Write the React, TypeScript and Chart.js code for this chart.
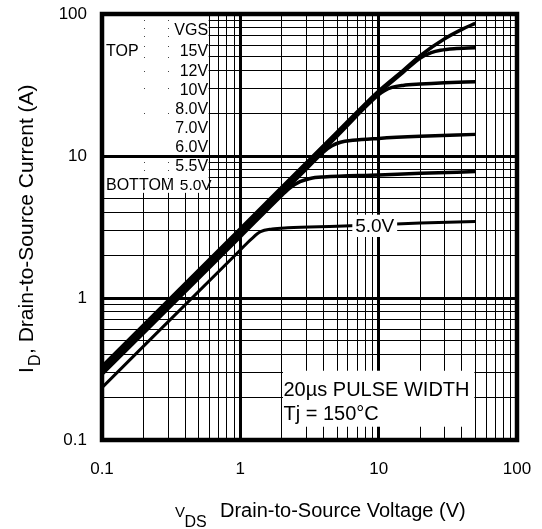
import React, { useEffect, useRef } from "react";
import { Chart, registerables } from "chart.js";

Chart.register(...registerables);

const FONT = '"Liberation Sans", Arial, Helvetica, sans-serif';

// grid positions (1-2-3-...-9 per decade) and decade labels
const gridValues = [
  0.1, 0.2, 0.3, 0.4, 0.5, 0.6, 0.7, 0.8, 0.9,
  1, 2, 3, 4, 5, 6, 7, 8, 9,
  10, 20, 30, 40, 50, 60, 70, 80, 90, 100,
];
const decadeValues = [0.1, 1, 10, 100];
const decadeLabels = ["0.1", "1", "10", "100"];

// VGS legend text
const vgsValues = ["VGS", "15V", "12V", "10V", "8.0V", "7.0V", "6.0V", "5.5V", "5.0V"];
const vgsPrefix = ["", "TOP", "", "", "", "", "", "", "BOTTOM"];
const vgsRowOffsets = [15, 36.5, 56, 75.3, 94.7, 113.3, 132, 151, 170.3];

// curves (VDS in V, ID in A)
const vds15 = [0.1, 1, 5, 10, 15, 20, 30, 40, 50];
const id15 = [0.33, 3.08, 14.7, 28.7, 40, 51, 67, 78, 86];

const vds8 = [0.1, 1, 10, 15, 20, 24, 28, 35, 50];
const id8 = [0.32, 2.98, 27.8, 38.8, 49, 53.5, 55.6, 57, 57.8];

const vds7 = [0.1, 1, 5, 10, 11, 12.5, 15, 20, 30, 50];
const id7 = [0.31, 2.89, 13.8, 27, 28.8, 30.4, 31.4, 32.1, 32.8, 33.4];

const vds6 = [0.1, 1, 3, 4, 4.6, 5.3, 6.5, 10, 20, 50];
const id6 = [0.3, 2.8, 8.1, 10.7, 11.8, 12.5, 12.9, 13.3, 13.75, 14.2];

const vds55 = [0.1, 1, 2, 2.3, 2.7, 3.2, 4, 10, 20, 50];
const id55 = [0.29, 2.7, 5.3, 6.0, 6.6, 6.95, 7.12, 7.35, 7.55, 7.77];

const vds5 = [0.1, 1, 1.2, 1.4, 1.7, 2.2, 5, 10, 20, 50];
const id5 = [0.234, 2.18, 2.6, 2.93, 3.06, 3.12, 3.2, 3.28, 3.37, 3.46];

const isDecade = (v: number) => Math.abs(Math.log10(v) - Math.round(Math.log10(v))) < 1e-6;

const align = (p: number, w: number) => {
  const h = Math.max(w / 2, 0.5);
  return Math.round(p - h) + h;
};

const makeSet = (label: string, xs: number[], ys: number[], w: number) => ({
  label,
  data: xs.map((x, i) => ({ x, y: ys[i] })),
  borderColor: "#000",
  backgroundColor: "#000",
  borderWidth: w,
  pointRadius: 0,
  cubicInterpolationMode: "monotone" as const,
  fill: false,
});

const overlay = {
  id: "overlay",
  afterDatasetsDraw(chart: any) {
    const { ctx, chartArea: a } = chart;
    const sx = chart.scales.x;
    const sy = chart.scales.y;
    const X = (v: number) => sx.getPixelForValue(v);
    const Y = (v: number) => sy.getPixelForValue(v);
    ctx.save();

    // ---- VGS legend box (top-left)
    const lbL = a.left;
    const lbR = X(0.6) - 1;
    const lbT = a.top;
    const lbB = Y(5.5);
    ctx.fillStyle = "#fff";
    ctx.fillRect(lbL, lbT, lbR - lbL, lbB - lbT);
    // major 10 line runs through the box
    ctx.strokeStyle = "#000";
    ctx.lineWidth = 3;
    ctx.beginPath();
    const y10 = align(Y(10), 3);
    ctx.moveTo(lbL, y10);
    ctx.lineTo(lbR + 2, y10);
    ctx.stroke();
    // dotted remnants of grid intersections
    ctx.fillStyle = "#444";
    const rows = gridValues.filter((v) => v > 5.5 && v < 100 && !isDecade(v));
    [0.2, 0.3].forEach((cv) => {
      rows.forEach((rv) => {
        ctx.fillRect(Math.round(X(cv)), Math.round(Y(rv)), 1, 1);
      });
    });
    // legend text
    ctx.fillStyle = "#000";
    ctx.textBaseline = "alphabetic";
    vgsValues.forEach((t, i) => {
      const yy = a.top + vgsRowOffsets[i] + 5.7;
      ctx.font = `${i === 8 ? 15.5 : 16}px ${FONT}`;
      ctx.textAlign = "right";
      ctx.fillText(t, i === 8 ? lbR + 3 : lbR - 0.5, yy);
      if (vgsPrefix[i]) {
        ctx.font = `16px ${FONT}`;
        ctx.textAlign = "left";
        ctx.fillText(vgsPrefix[i], a.left + 4, yy);
      }
    });

    // ---- 5.0V label
    const l5L = X(6.45);
    const l5R = X(13.6);
    const l5T = Y(3.86);
    const l5B = Y(2.69);
    ctx.fillStyle = "#fff";
    ctx.fillRect(l5L, l5T, l5R - l5L, l5B - l5T);
    ctx.fillStyle = "#000";
    ctx.font = `19px ${FONT}`;
    ctx.textAlign = "center";
    ctx.textBaseline = "alphabetic";
    ctx.fillText("5.0V", (l5L + l5R) / 2, l5B - 4.5);

    // ---- pulse width box (bottom-right)
    const pbL = X(2) + 1;
    const pbR = X(50) - 1;
    const pbT = Y(0.3) - 1.5;
    const pbB = Y(0.124);
    ctx.fillStyle = "#fff";
    ctx.fillRect(pbL, pbT, pbR - pbL, pbB - pbT);
    ctx.fillStyle = "#000";
    ctx.font = `20px ${FONT}`;
    ctx.textAlign = "left";
    ctx.fillText("20\u00B5s PULSE WIDTH", pbL + 0.5, pbT + 25);
    ctx.fillText("Tj = 150\u00B0C", pbL + 0.5, pbT + 49);

    ctx.restore();
  },
  afterDraw(chart: any) {
    const { ctx, chartArea: a } = chart;
    const sx = chart.scales.x;
    const sy = chart.scales.y;
    ctx.save();
    // frame
    ctx.strokeStyle = "#000";
    ctx.lineWidth = 4.5;
    ctx.strokeRect(a.left, a.top, a.right - a.left, a.bottom - a.top);

    // tick labels
    ctx.fillStyle = "#000";
    ctx.font = `17px ${FONT}`;
    ctx.textBaseline = "middle";
    ctx.textAlign = "right";
    decadeValues.forEach((v, i) => {
      ctx.fillText(decadeLabels[i], a.left - 15, sy.getPixelForValue(v));
    });
    ctx.textAlign = "center";
    decadeValues.forEach((v, i) => {
      ctx.fillText(decadeLabels[i], sx.getPixelForValue(v), a.bottom + 29);
    });

    // x title: V_DS Drain-to-Source Voltage (V)
    ctx.textBaseline = "alphabetic";
    ctx.textAlign = "left";
    ctx.font = `15px ${FONT}`;
    ctx.fillText("V", 175, 517);
    ctx.font = `16px ${FONT}`;
    ctx.fillText("DS", 184.5, 527);
    ctx.font = `20px ${FONT}`;
    ctx.fillText("Drain-to-Source Voltage (V)", 220, 517);

    // y title: I_D, Drain-to-Source Current (A)
    ctx.translate(33, 373);
    ctx.rotate(-Math.PI / 2);
    ctx.font = `21px ${FONT}`;
    ctx.fillText("I", 0, 0);
    ctx.font = `16px ${FONT}`;
    ctx.fillText("D", 7, 7);
    ctx.font = `21px ${FONT}`;
    ctx.fillText(", Drain-to-Source Current (A)", 19, 0);
    ctx.restore();
  },
};

const axisCommon = {
  type: "logarithmic" as const,
  min: 0.1,
  max: 100,
  afterBuildTicks: (s: any) => {
    s.ticks = gridValues.map((v) => ({ value: v }));
  },
  ticks: { display: false },
  grid: {
    color: "#000",
    lineWidth: (c: any) => (c.tick && isDecade(c.tick.value) ? 3 : 1),
    drawTicks: false,
  },
  border: { display: false },
};

export default function App() {
  const ref = useRef<HTMLCanvasElement | null>(null);

  useEffect(() => {
    if (!ref.current) return;
    const chart = new Chart(ref.current, {
      type: "line",
      data: {
        datasets: [
          makeSet("15V / 12V / 10V", vds15, id15, 3.5),
          makeSet("8.0V", vds8, id8, 3.5),
          makeSet("7.0V", vds7, id7, 3.5),
          makeSet("6.0V", vds6, id6, 3.5),
          makeSet("5.5V", vds55, id55, 3.5),
          makeSet("5.0V", vds5, id5, 3),
        ],
      },
      options: {
        responsive: false,
        animation: false,
        events: [],
        layout: { padding: { left: 0, top: 14, right: 25, bottom: 0 } },
        plugins: {
          legend: { display: false },
          tooltip: { enabled: false },
          title: { display: false },
        },
        scales: {
          x: {
            ...axisCommon,
            afterFit: (s: any) => {
              s.height = 89;
            },
          },
          y: {
            ...axisCommon,
            afterFit: (s: any) => {
              s.width = 102;
            },
          },
        },
      } as any,
      plugins: [overlay],
    });
    return () => chart.destroy();
  }, []);

  return (
    <div style={{ position: "fixed", left: 0, top: 0, width: 542, height: 529, background: "#fff" }}>
      <canvas ref={ref} width={542} height={529} style={{ display: "block" }} />
    </div>
  );
}
